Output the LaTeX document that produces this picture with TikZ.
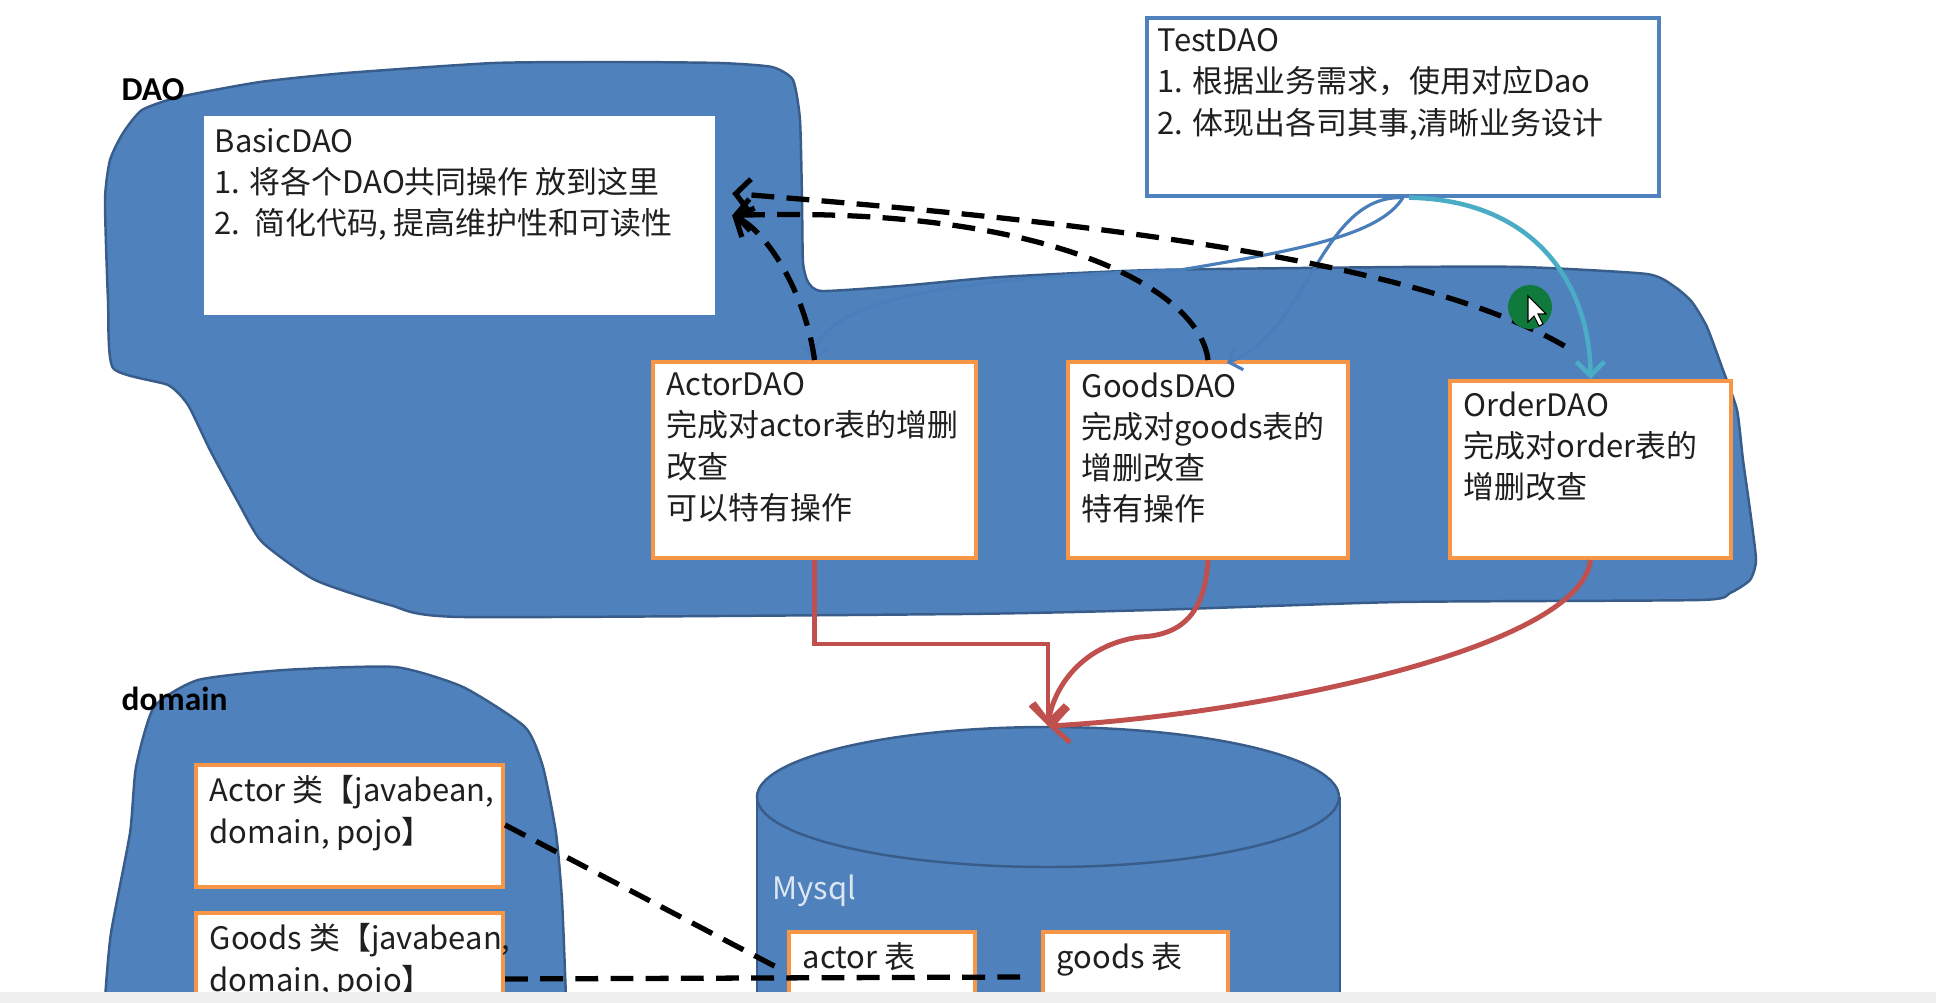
\documentclass[tikz,border=0pt]{standalone}
\usepackage{fontspec}
\setmainfont{Noto Sans CJK SC}
\newfontfamily\headfont{Carlito}
\usetikzlibrary{arrows.meta, calc}

\definecolor{blobblue}{RGB}{79,129,189}
\definecolor{blobline}{RGB}{56,93,138}
\definecolor{boxorange}{RGB}{247,150,70}
\definecolor{linkred}{RGB}{192,80,77}
\definecolor{linkblue}{RGB}{74,126,187}
\definecolor{linkteal}{RGB}{75,172,198}
\definecolor{cursorgreen}{RGB}{16,122,60}
\definecolor{stripgray}{RGB}{240,240,240}

\tikzset{
  blob/.style={fill=blobblue, draw=blobline, line width=0.7pt},
  daobox/.style={draw=boxorange, line width=1.1pt, fill=white, inner sep=0pt, anchor=north west},
  txt/.style={anchor=north west, align=left, inner xsep=0.15cm, inner ysep=0.12cm,
    font=\fontsize{8.8}{11.7}\selectfont, text=black!88},
  grouplabel/.style={anchor=west, inner sep=0pt, font=\headfont\bfseries\fontsize{9.5}{11}\selectfont},
  uses/.style={draw=black, line width=1.5pt, dash pattern=on 6.5pt off 3.5pt,
    -{Straight Barb[length=4pt, width=9pt]}},
  links/.style={draw=black, line width=1.5pt, dash pattern=on 6.5pt off 3.5pt},
  calls/.style={draw=linkblue, line width=0.9pt, -{Straight Barb[length=3pt, width=7pt]}},
  callsorder/.style={draw=linkteal, line width=1.3pt, -{Straight Barb[length=4pt, width=8pt]}},
  feeds/.style={draw=linkred, line width=1.4pt, -{Straight Barb[length=5pt, width=10pt]}}
}

\begin{document}
\begin{tikzpicture}[x=0.01cm, y=-0.01cm]
    \useasboundingbox (0,0) rectangle (1936,1003);
    \clip (0,0) rectangle (1936,1003);

    % package outlines
    \draw[blob] plot[smooth cycle, tension=0.35] coordinates {
      (110,160) (123,133) (142,110) (179,97) (260,82) (346,73) (494,63) (617,62)
      (720,63) (772,67) (793,80) (800,120) (802,200) (803,262) (808,282) (822,291)
      (900,286) (1000,277) (1153,270) (1400,267) (1523,267) (1647,274) (1675,287)
      (1692,302) (1707,327) (1723,370) (1737,410) (1743,460) (1750,510) (1756,560)
      (1750,580) (1730,593) (1700,600) (1400,602) (1153,610) (963,614) (463,617)
      (390,605) (315,580) (262,542) (238,502) (210,450) (188,405) (168,385)
      (113,368) (108,300) (105,200)};
    \draw[blob] plot[smooth cycle, tension=0.35] coordinates {
      (154,707) (198,680) (284,670) (395,667) (463,687) (525,727) (543,767)
      (556,833) (562,900) (566,1000) (566,1040) (105,1040) (105,1000) (111,933)
      (130,833) (136,767)};
    \node[grouplabel] (daolabel) at (121,90) {DAO};
    \node[grouplabel] (domainlabel) at (121,699) {domain};

    % database
    \fill[blobblue] (757,797) rectangle (1340,1010);
    \draw[blobline, line width=0.7pt] (757,797) -- (757,1010) (1340,797) -- (1340,1010);
    \filldraw[fill=blobblue, draw=blobline, line width=0.7pt] (1048,797) ellipse [x radius=291, y radius=70];
    \coordinate (mysqltop) at (1048,726);
    \node[anchor=west, inner sep=0pt, text={rgb,255:red,220;green,230;blue,242},
      font=\fontsize{8.8}{11}\selectfont] (mysql) at (772,891) {Mysql};

    % boxes
    \node[daobox, draw=white, minimum width=5.07cm, minimum height=1.95cm,
      label={[txt, inner xsep=0.1cm]north west:{BasicDAO\\1. 将各个DAO共同操作 放到这里\\2.\ \ 简化代码, 提高维护性和可读性}}]
      (basic) at (204,116) {};
    \node[daobox, draw=blobblue, line width=1pt, minimum width=5.12cm, minimum height=1.78cm,
      label={[txt, inner xsep=0.12cm]north west:{TestDAO\\1. 根据业务需求，使用对应Dao\\2. 体现出各司其事,清晰业务设计}}]
      (test) at (1145,16) {};
    \node[daobox, minimum width=3.23cm, minimum height=1.96cm,
      label={[txt]north west:{ActorDAO\\完成对actor表的增删\\改查\\可以特有操作}}]
      (actor) at (651,360) {};
    \node[daobox, minimum width=2.80cm, minimum height=1.96cm,
      label={[txt]north west:{GoodsDAO\\完成对goods表的\\增删改查\\特有操作}}]
      (goods) at (1066,360) {};
    \node[daobox, minimum width=2.81cm, minimum height=1.77cm,
      label={[txt]north west:{OrderDAO\\完成对order表的\\增删改查}}]
      (order) at (1448,379) {};
    \node[daobox, minimum width=3.07cm, minimum height=1.22cm,
      label={[txt]north west:{Actor 类【javabean,\\domain, pojo】}}]
      (actorcls) at (194,763) {};
    \node[daobox, minimum width=3.07cm, minimum height=1.32cm,
      label={[txt]north west:{Goods 类【javabean,\\domain, pojo】}}]
      (goodscls) at (194,911) {};
    \node[daobox, minimum width=1.86cm, minimum height=0.90cm,
      label={[txt]north west:{actor 表}}]
      (actortbl) at (787,930) {};
    \node[daobox, minimum width=1.85cm, minimum height=0.90cm,
      label={[txt]north west:{goods 表}}]
      (goodstbl) at (1041,930) {};

    % DAO -> Mysql
    \draw[feeds] (actor.south) -- ++(0,84) -| (mysqltop);
    \draw[feeds] (goods.south) .. controls (1205,610) and (1185,635) .. (1140,637)
      .. controls (1080,645) and (1053,690) .. (mysqltop);
    \draw[feeds] (order.south) .. controls (1580,650) and (1250,715) .. (mysqltop);

    % TestDAO -> DAOs
    \draw[calls] (test.south) .. controls (1380,235) and (1300,250) .. (1180,270)
      .. controls (950,278) and (820,300) .. (actor.north);
    \draw[calls] (test.south) .. controls (1320,195) and (1310,330) .. ($(goods.north)+(19,3)$);
    \draw[callsorder] ($(test.south)+(6,0)$) .. controls (1540,200) and (1590,290) .. (order.north);

    % DAOs -> BasicDAO
    \coordinate (ordertip) at ($(order.north)+(-26,-33)$);
    \draw[uses] (actor.north) .. controls (805,290) and (765,230) .. ($(basic.east)+(17,0)$);
    \draw[uses] (goods.north) .. controls (1200,290) and (1050,205) .. ($(basic.east)+(17,0)$);
    \draw[uses] (ordertip) .. controls (1400,250) and (1000,215) .. ($(basic.east)+(17,-22)$);

    % domain -> tables
    \draw[links] ($(actorcls.east)+(0,-1)$) -- ($(actortbl.north west)+(-5,40)$);
    \draw[links] (goodscls.east) -- ($(goodstbl.west)+(-12,0)$);

    % pointer
    \fill[cursorgreen] (1530,307) circle [radius=22];
    \filldraw[fill=white, draw=black, line width=0.3pt] (1528,296) -- (1528,322) -- (1534,316)
      -- (1539,326) -- (1543,324) -- (1538,314) -- (1546,314) -- cycle;

    % bottom strip
    \fill[stripgray] (0,992) rectangle (1936,1003);
\end{tikzpicture}
\end{document}
